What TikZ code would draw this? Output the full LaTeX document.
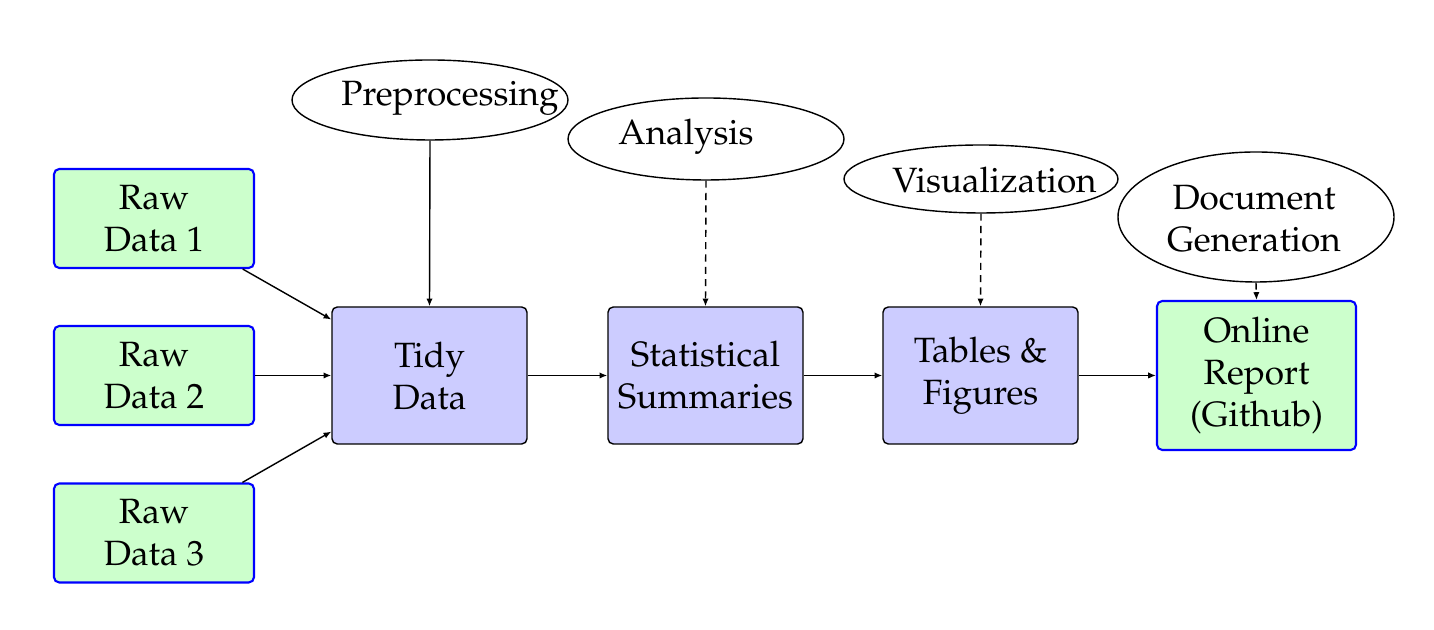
\documentclass[tikz,border=0pt]{standalone}
\usepackage[T1]{fontenc}
\usepackage{mathpazo}
\usetikzlibrary{shapes.geometric,arrows.meta}
\tikzset{
  rawbox/.style={draw=blue, semithick, fill=green!20, rounded corners=1.5pt, minimum width=2cm, minimum height=0.99cm, align=center, inner sep=0pt},
  procbox/.style={draw=black, thin, fill=blue!20, rounded corners=1.5pt, minimum width=1.95cm, minimum height=1.37cm, align=center, inner sep=0pt},
  outbox/.style={draw=blue, semithick, fill=green!20, rounded corners=1.5pt, minimum width=1.99cm, minimum height=1.49cm, align=center, inner sep=0pt},
  stepell/.style={draw, thin, ellipse, inner sep=0pt},
  lbl/.style={align=center, inner sep=0pt},
  flow/.style={-{Latex[length=2.2pt,width=1.8pt]}, thin},
  dflow/.style={flow, dash pattern=on 2pt off 1.5pt},
}
\begin{document}
\begin{tikzpicture}
\useasboundingbox (0,0) rectangle (14.34,6.30);
\node[rawbox] (raw1) at (1.54,4.115) {Raw\\Data 1};
\node[rawbox] (raw2) at (1.54,2.545) {Raw\\Data 2};
\node[rawbox] (raw3) at (1.54,0.97) {Raw\\Data 3};
\node[procbox] (tidy) at (4.295,2.545) {Tidy\\Data};
\node[procbox] (stat) at (7.055,2.545) {Statistical\\Summaries};
\node[procbox] (tab) at (9.805,2.545) {Tables \&\\Figures};
\node[outbox] (online) at (12.565,2.545) {Online\\Report\\(Github)};
\node[stepell, minimum width=2.76cm, minimum height=0.80cm] (prep) at (4.30,5.30) {};
\node[stepell, minimum width=2.76cm, minimum height=0.82cm] (ana) at (7.06,4.91) {};
\node[stepell, minimum width=2.74cm, minimum height=0.68cm] (vis) at (9.81,4.51) {};
\node[stepell, minimum width=2.76cm, minimum height=1.30cm] (doc) at (12.56,4.13) {};
\node[lbl] (prept) at (4.50,5.32) {Preprocessing};
\node[lbl] (anat) at (6.86,4.93) {Analysis};
\node[lbl] (vist) at (9.945,4.50) {Visualization};
\node[lbl] (doct) at (12.54,4.11) {Document\\Generation};
\draw[flow] (raw1) -- (tidy);
\draw[flow] (raw2) -- (tidy);
\draw[flow] (raw3) -- (tidy);
\draw[flow] (tidy) -- (stat);
\draw[flow] (stat) -- (tab);
\draw[flow] (tab) -- (online);
\draw[flow] (prep.south) -- (tidy.north);
\draw[dflow] (ana.south) -- (stat.north);
\draw[dflow] (vis.south) -- (tab.north);
\draw[dflow] (doc.south) -- (online.north);
\end{tikzpicture}
\end{document}
